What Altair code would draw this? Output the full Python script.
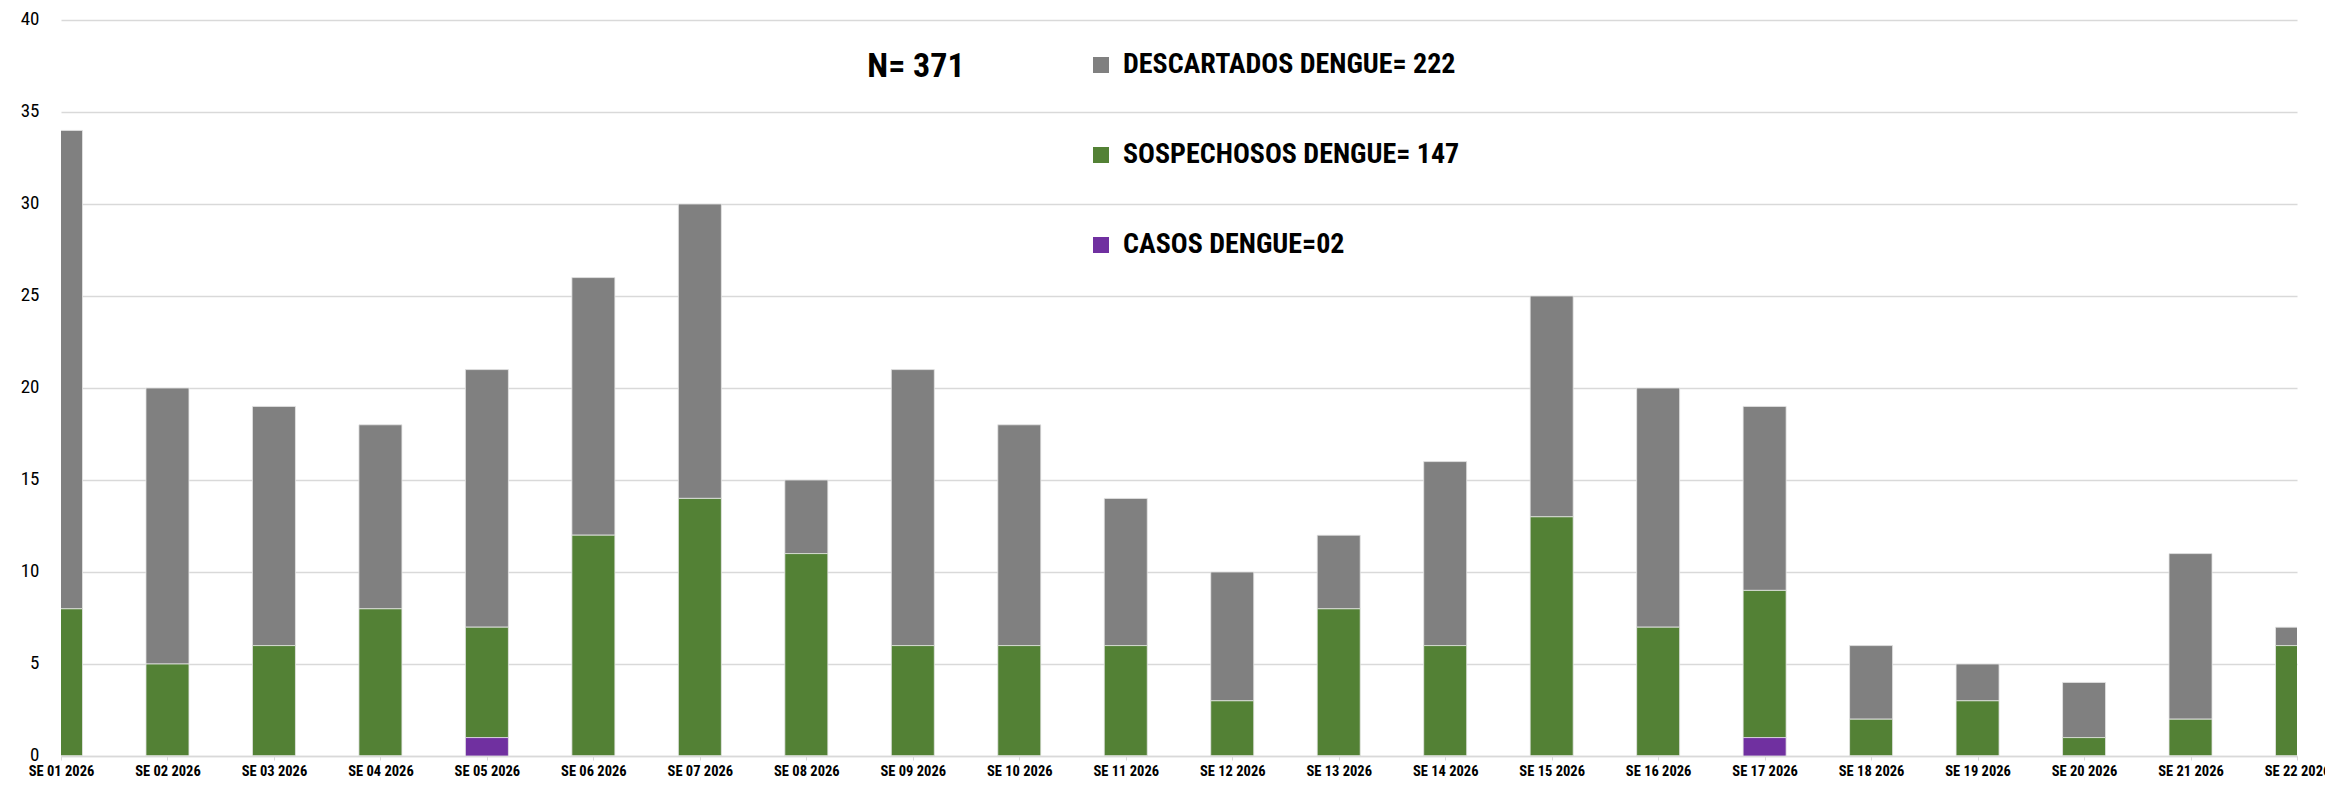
import altair as alt
import pandas as pd

weeks = [f"SE {i:02d} 2026" for i in range(1, 23)]
descartados = [26, 15, 13, 10, 14, 14, 16, 4, 15, 12, 8, 7, 4, 10, 12, 13, 10, 4, 2, 3, 9, 1]
sospechosos = [8, 5, 6, 8, 6, 12, 14, 11, 6, 6, 6, 3, 8, 6, 13, 7, 8, 2, 3, 1, 2, 6]
casos = [0, 0, 0, 0, 1, 0, 0, 0, 0, 0, 0, 0, 0, 0, 0, 0, 1, 0, 0, 0, 0, 0]

series = ["DESCARTADOS DENGUE= 222", "SOSPECHOSOS DENGUE= 147", "CASOS DENGUE=02"]
colors = ["#808080", "#538135", "#7030A0"]
stack_order = [3, 2, 1]
title_text = "N= 371"

rows = []
for name, vals, o in zip(series, [descartados, sospechosos, casos], stack_order):
    for w, v in zip(weeks, vals):
        rows.append({"week": w, "serie": name, "value": v, "ord": o})
df = pd.DataFrame(rows)

FONT = "Liberation Sans Narrow, Roboto Condensed, Open Sans, sans-serif"
W, H = 2236, 736

bars = alt.Chart(df).mark_bar(size=43, clip=True, stroke="#e6e6e6", strokeWidth=0.8).encode(
    x=alt.X("week:O", sort=weeks, scale=alt.Scale(type="point", padding=0),
            axis=alt.Axis(title=None, labelAngle=0, labelFontWeight="bold", labelFontSize=14.5,
                          labelFont=FONT, labelColor="#000000", domainColor="#d9d9d9",
                          domainWidth=1.5, tickColor="#d9d9d9", tickSize=4, labelPadding=4,
                          labelBaseline="top", grid=False)),
    y=alt.Y("value:Q", stack="zero", scale=alt.Scale(domain=[0, 40], nice=False),
            axis=alt.Axis(title=None, values=list(range(0, 41, 5)), domain=False, ticks=False,
                          gridColor="#d9d9d9", gridWidth=1.5, labelFontSize=19, labelFont=FONT,
                          labelColor="#000000", labelPadding=22, labelOffset=-2)),
    color=alt.Color("serie:N", sort=series,
                    scale=alt.Scale(domain=series, range=colors),
                    legend=alt.Legend(title=None, orient="none", legendX=1026, legendY=31,
                                      symbolType="square", symbolSize=256, symbolStrokeWidth=0,
                                      labelFontSize=28, labelFontWeight="bold", labelFont=FONT,
                                      labelColor="#000000", rowPadding=62, labelOffset=8,
                                      labelLimit=0)),
    order=alt.Order("ord:Q"),
)

title = alt.Chart(pd.DataFrame({"t": [title_text]})).mark_text(
    fontSize=34, fontWeight="bold", font=FONT, color="#000000", align="center", baseline="middle"
).encode(x=alt.value(855), y=alt.value(47), text="t:N")

chart = alt.layer(bars, title).properties(
    width=W, height=H,
    autosize=alt.AutoSizeParams(type="none"),
    padding={"left": 53, "top": 12, "right": 28, "bottom": 23},
).configure_view(stroke=None)

chart.save("out.html", embed_options={"renderer": "svg", "actions": False})
